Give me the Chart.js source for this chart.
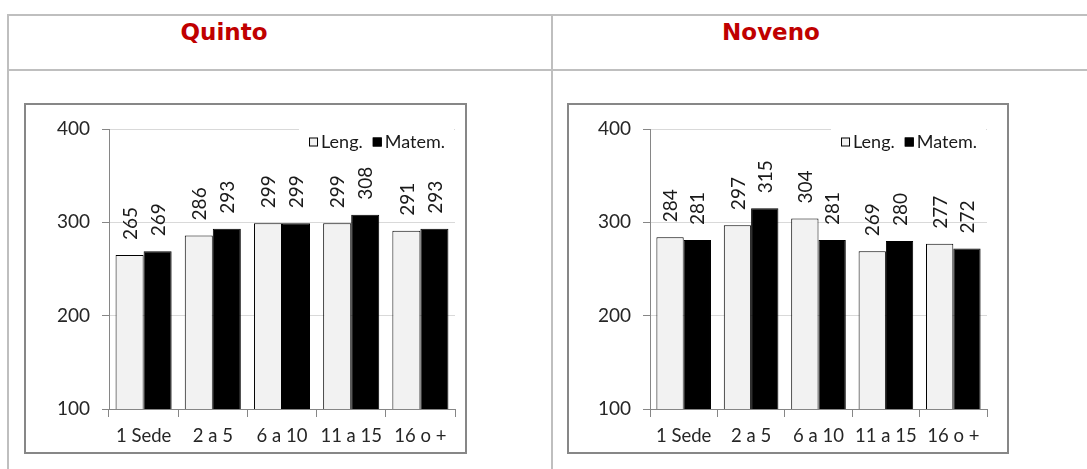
<!DOCTYPE html>
<html>
<head>
<meta charset="utf-8">
<script src="https://cdn.jsdelivr.net/npm/chart.js@4/dist/chart.umd.min.js"></script>
<style>
  body { margin: 0; background: #fff; }
  #page { position: relative; width: 1087px; height: 469px; overflow: hidden; }
  .hl { position: absolute; height: 2px; background: #bfbfbf; }
  .vl { position: absolute; width: 2px; background: #bfbfbf; }
  .titulo { position: absolute; top: 19px; font: bold 23px "DejaVu Sans", sans-serif; color: #c00000; text-align: center; width: 200px; }
  .caja { position: absolute; border: 2px solid #878787; background: #fff; }
</style>
</head>
<body>
<div id="page">
  <div class="hl" style="left:8px; top:14px; width:1079px;"></div>
  <div class="hl" style="left:8px; top:69px; width:1079px;"></div>
  <div class="vl" style="left:7px; top:14px; height:455px;"></div>
  <div class="vl" style="left:551px; top:14px; height:455px;"></div>
  <div class="titulo" style="left:124px;">Quinto</div>
  <div class="titulo" style="left:671px;">Noveno</div>
  <div class="caja" style="left:24px; top:103px;"><canvas id="quinto" width="439" height="347"></canvas></div>
  <div class="caja" style="left:567px; top:103px;"><canvas id="noveno" width="438" height="347"></canvas></div>
</div>
<script>
// categorias (sedes)
var categorias = ['1 Sede', '2 a 5', '6 a 10', '11 a 15', '16 o +'];
var series = ['Leng.', 'Matem.'];
var ejeY = [100, 200, 300, 400];

// quinto
var quintoLeng = [265, 286, 299, 299, 291];
var quintoMat = [269, 293, 299, 308, 293];
// noveno
var novenoLeng = [284, 297, 304, 269, 277];
var novenoMat = [281, 315, 281, 280, 272];

Chart.defaults.font.family = 'Lato, sans-serif';
Chart.defaults.font.size = 19;
Chart.defaults.color = '#262626';

// etiquetas verticales encima de las barras
var etiquetas = {
    id: 'etiquetas',
    afterDatasetsDraw: function(chart) {
        var ctx = chart.ctx;
        ctx.save();
        ctx.font = '19px Lato, sans-serif';
        ctx.fillStyle = '#1a1a1a';
        chart.data.datasets.forEach(function(ds, i) {
            chart.getDatasetMeta(i).data.forEach(function(bar, j) {
                ctx.save();
                ctx.translate(bar.x, bar.y - 15);
                ctx.rotate(-Math.PI / 2);
                ctx.textAlign = 'left';
                ctx.textBaseline = 'middle';
                ctx.fillText(ds.data[j], 0, 1);
                ctx.restore();
            });
        });
        ctx.restore();
    }
};

// leyenda arriba a la derecha, con fondo blanco
var leyenda = {
    id: 'leyenda',
    afterDraw: function(chart) {
        var ctx = chart.ctx;
        var area = chart.chartArea;
        ctx.save();
        ctx.font = '18px Lato, sans-serif';
        var caja = 9, sep = 3, entre = 10;
        var total = 0;
        chart.data.datasets.forEach(function(ds, i) {
            total += caja + sep + ctx.measureText(ds.label).width;
            if (i > 0) total += entre;
        });
        var x = area.right - 10 - total;
        var y = area.top + 13;
        ctx.fillStyle = '#fff';
        ctx.fillRect(x - 10, area.top, area.right - x + 9, 26);
        chart.data.datasets.forEach(function(ds) {
            ctx.fillStyle = ds.backgroundColor;
            ctx.fillRect(x, y - caja / 2, caja, caja);
            ctx.strokeStyle = '#000';
            ctx.lineWidth = 1;
            ctx.strokeRect(x + 0.5, y - caja / 2 + 0.5, caja - 1, caja - 1);
            x += caja + sep;
            ctx.fillStyle = '#1a1a1a';
            ctx.textBaseline = 'middle';
            ctx.fillText(ds.label, x, y);
            x += ctx.measureText(ds.label).width + entre;
        });
        ctx.restore();
    }
};

function grafico(id, leng, mat, anchoY, derecha) {
    var ctx = document.getElementById(id).getContext('2d');
    return new Chart(ctx, {
        type: 'bar',
        data: {
            labels: categorias,
            datasets: [{
                label: series[0],
                data: leng,
                backgroundColor: '#f2f2f2',
                borderColor: '#000',
                borderWidth: 1,
                borderSkipped: 'bottom'
            }, {
                label: series[1],
                data: mat,
                backgroundColor: '#000',
                borderColor: '#000',
                borderWidth: 1,
                borderSkipped: 'bottom'
            }]
        },
        options: {
            responsive: false,
            animation: false,
            categoryPercentage: 0.81,
            barPercentage: 1.0,
            layout: { padding: { top: 24, right: derecha, left: 0, bottom: 0 } },
            plugins: {
                legend: { display: false },
                tooltip: { enabled: false }
            },
            scales: {
                x: {
                    afterFit: function(s) { s.height = 43; },
                    border: { color: '#868686', width: 1 },
                    grid: { offset: true, drawOnChartArea: false, drawTicks: true, tickLength: 8, tickColor: '#868686' },
                    ticks: { padding: 8, maxRotation: 0, minRotation: 0, autoSkip: false, font: { size: 18.5 } }
                },
                y: {
                    min: ejeY[0],
                    max: ejeY[ejeY.length - 1],
                    afterFit: function(s) { s.width = anchoY; },
                    afterBuildTicks: function(s) {
                        s.ticks = ejeY.map(function(v) { return { value: v }; });
                    },
                    border: { color: '#868686', width: 1 },
                    grid: { color: '#d9d9d9', tickColor: '#868686', tickLength: 7 },
                    ticks: { padding: 12 }
                }
            }
        },
        plugins: [etiquetas, leyenda]
    });
}

grafico('quinto', quintoLeng, quintoMat, 83, 10);
grafico('noveno', novenoLeng, novenoMat, 81, 20);
</script>
</body>
</html>
